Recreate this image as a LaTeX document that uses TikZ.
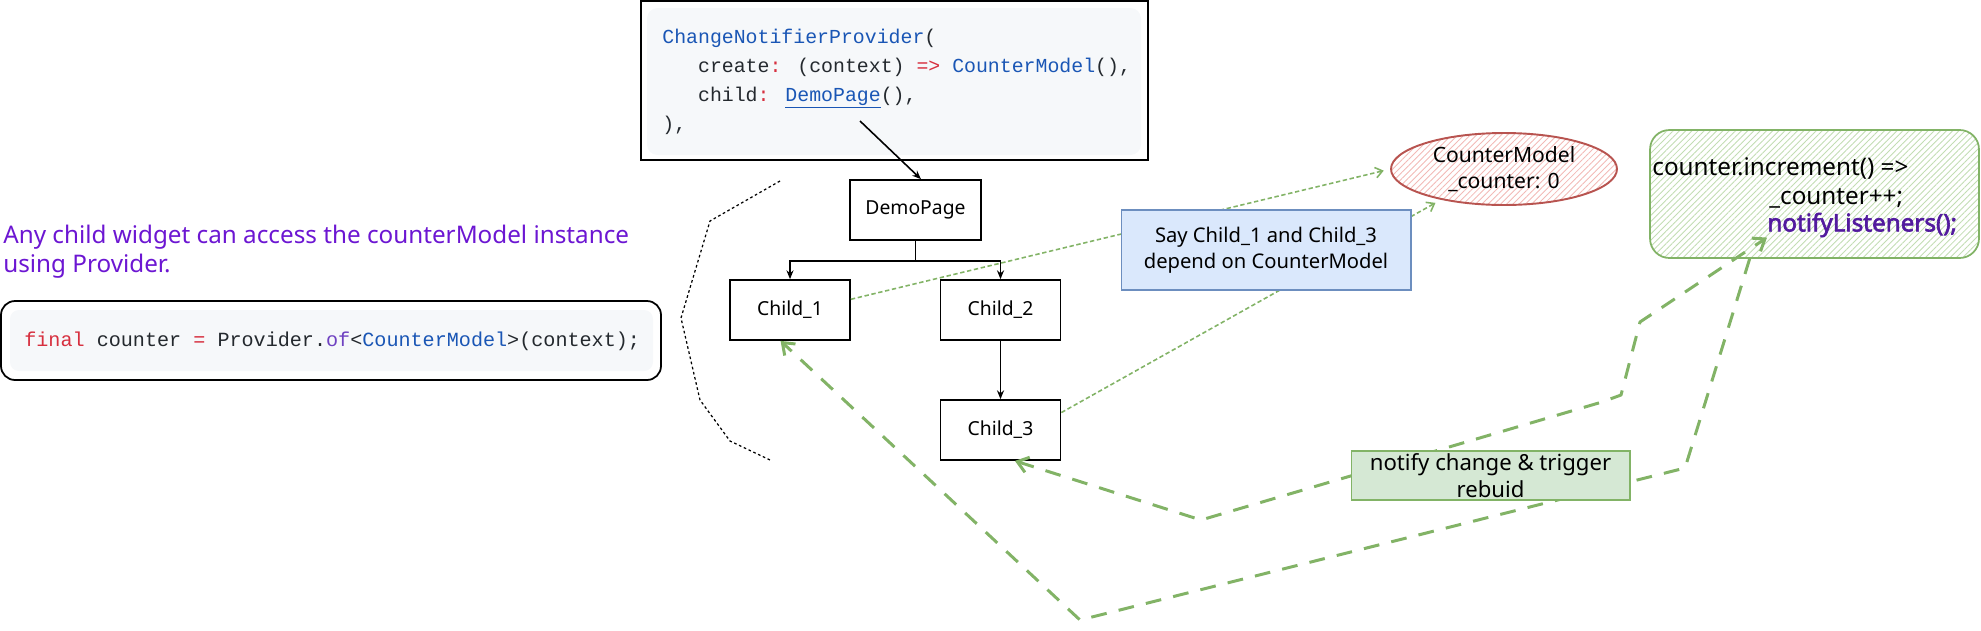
\documentclass[tikz,border=0pt]{standalone}
\usepackage{fontspec}
\setmainfont{Noto Sans}
\newfontfamily\codefont{Liberation Mono}
\newfontfamily\heavyhand{Noto Sans}[FakeBold=2.5]
\usetikzlibrary{arrows.meta,positioning,shapes.geometric,patterns.meta}

\definecolor{codeblue}{HTML}{1A56B5}
\definecolor{codered}{HTML}{D7303F}
\definecolor{codepurple}{HTML}{6F42C1}
\definecolor{codeink}{HTML}{24292E}
\definecolor{codebg}{HTML}{F6F8FA}
\definecolor{hintviolet}{HTML}{6C16D2}
\definecolor{listenviolet}{HTML}{521A9E}
\definecolor{leaf}{HTML}{82B366}
\definecolor{leaffill}{HTML}{D5E8D4}
\definecolor{leafhatch}{HTML}{C2DDB3}
\definecolor{sky}{HTML}{6C8EBF}
\definecolor{skyfill}{HTML}{DAE8FC}
\definecolor{brick}{HTML}{B85450}
\definecolor{brickhatch}{HTML}{F2B9B6}

\begin{document}
\begin{tikzpicture}[x=0.02cm,y=-0.02cm,
  widget/.style={rectangle,draw=black,line width=1pt,fill=white,minimum width=2.4cm,minimum height=1.2cm,font=\fontsize{11}{13}\selectfont},
  tagbox/.style={rectangle,draw,line width=0.6pt,align=center,inner sep=1pt,font=\fontsize{11.5}{14.5}\selectfont},
  freetext/.style={inner sep=0pt,anchor=west,font=\fontsize{13.8}{15}\selectfont},
  codetext/.style={inner sep=0pt,anchor=west,align=left,text=codeink,font=\codefont\fontsize{11.3}{16.5}\selectfont},
  treearrow/.style={-{Stealth[length=5pt,width=4pt]},line width=0.9pt},
  watcharrow/.style={-{Straight Barb[length=4pt,width=6pt]},leaf,line width=0.9pt,dash pattern=on 2.5pt off 1.5pt,shorten >=4pt},
  refresharrow/.style={leaf,line width=1.7pt,dash pattern=on 9pt off 7pt,line join=round},
  bracketline/.style={black,line width=0.7pt,dash pattern=on 1.5pt off 1.5pt}
]
\useasboundingbox (0,0) rectangle (1981,630);

% code snippets
\fill[codebg,rounded corners=6pt] (647,8) rectangle (1141,155);
\draw[line width=1pt] (641,1) rectangle (1148,160);
\node[codetext] (providercode) at (662,81.5) {%
  {\color{codeblue}ChangeNotifierProvider}(\\
  \hspace*{1.8em}create{\color{codered}:} (context) {\color{codered}=>} {\color{codeblue}CounterModel}(),\\
  \hspace*{1.8em}child{\color{codered}:} {\color{codeblue}\underline{DemoPage}}(),\\
  ),};

\fill[codebg,rounded corners=5pt] (10,310) rectangle (653,371);
\draw[line width=1pt,rounded corners=8pt] (1,301) rectangle (661,380);
\node[codetext,font=\codefont\fontsize{11.45}{16.5}\selectfont] (ofcode) at (24,341) {{\color{codered}final} counter {\color{codered}=} Provider.{\color{codepurple}of}<{\color{codeblue}CounterModel}>(context);};

\node[freetext,text=hintviolet,align=left,font=\fontsize{13.8}{16.5}\selectfont] (hint) at (3,251.5) {Any child widget can access the counterModel instance\\using Provider.};

% widget tree
\node[widget,minimum width=2.62cm] (demo) at (915.5,210) {DemoPage};
\node[widget] (child1) at (790,310) {Child\_1};
\node[widget] (child2) at (1000.5,310) {Child\_2};
\node[widget] (child3) at (1000.5,430) {Child\_3};

% model and listener
\node[ellipse,draw=brick,line width=1.1pt,pattern={Lines[angle=45,distance=2.5pt,line width=0.5pt]},pattern color=brickhatch,inner sep=0pt,minimum width=4.52cm,minimum height=1.44cm,align=center,font=\fontsize{12}{14.8}\selectfont] (counter) at (1504,169) {CounterModel\\\_counter: 0};

\node[rectangle,draw=leaf,line width=1pt,rounded corners=11pt,pattern={Lines[angle=45,distance=2.5pt,line width=0.5pt]},pattern color=leafhatch,minimum width=6.58cm,minimum height=2.56cm] (incbox) at (1814.5,194) {};
\node[freetext] (incline) at (1652,168) {counter.increment() =>};
\node[freetext] (cntline) at (1769,198) {\_counter++;};
\node[freetext,text=listenviolet,font=\heavyhand\fontsize{13.8}{15}\selectfont] (notifyline) at (1767,225) {notifyListeners();};

% tree arrows
\coordinate (codeptr) at (860,121);
\draw[treearrow] (codeptr) -- (demo.80);
\draw[treearrow] (demo.south) -- ++(0,20) -| (child1.north);
\draw[treearrow] (demo.south) -- ++(0,20) -| (child2.north);
\draw[treearrow] (child2) -- (child3);

\draw[bracketline] (780,181) -- (710,221) -- (681,318) -- (700,400) -- (730,441) -- (770,460);

% dependencies
\draw[watcharrow] (child1.10) -- (counter.west);
\draw[watcharrow] (child3.16) -- (counter.206);

% notify and rebuild
\draw[refresharrow,{Straight Barb[length=6pt,width=9pt]}-{Straight Barb[length=6pt,width=9pt]}] (child3.-65) -- (1201,520) -- (1602,402) -- (1621,395) -- (1640,322) -- (notifyline.south west);
\draw[refresharrow,-{Straight Barb[length=6pt,width=9pt]}] (incbox.-135) -- (1685,468) -- (1080,620) -- (child1.-107);

\node[tagbox,draw=sky,fill=skyfill,minimum width=5.8cm,minimum height=1.6cm] (depend) at (1266,250) {Say Child\_1 and Child\_3\\depend on CounterModel};
\node[tagbox,draw=leaf,fill=leaffill,inner sep=0pt,minimum width=5.58cm,minimum height=0.98cm,font=\fontsize{12.6}{15}\selectfont] (rebuild) at (1490.5,475.5) {notify change \& trigger\\rebuid};

\end{tikzpicture}
\end{document}
